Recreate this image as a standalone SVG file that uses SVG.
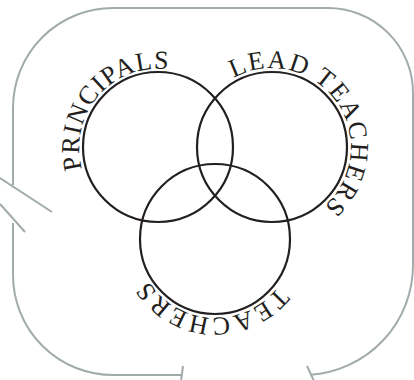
<svg xmlns="http://www.w3.org/2000/svg" width="414" height="380" viewBox="0 0 414 380">
  <style>
    .frame { fill: none; stroke: #a2abab; stroke-width: 2; }
    .ring { fill: none; stroke: #231f20; stroke-width: 2.2; }
    .lbl { font-family: "Liberation Serif", "Times New Roman", serif; font-size: 26px; fill: #231f20; }
  </style>
  <defs>
    <path id="pPrin" d="M82.14,169.04 A79,79 0 0 1 233.86,124.96 A79,79 0 0 1 82.14,169.04"/>
    <path id="pLead" d="M233.46,78.04 A79,79 0 0 1 310.54,215.96 A79,79 0 0 1 233.46,78.04"/>
    <path id="pTeach" d="M278.01,286.65 A79,79 0 0 1 151.99,191.35 A79,79 0 0 1 278.01,286.65"/>
  </defs>
  <g id="frame">
    <path class="frame" d="M310,374.8 A110,110 0 0 0 413,265 L413,93 A85,85 0 0 0 328,8 L113,8 A100,100 0 0 0 13,108 L13,185"/>
    <path class="frame" d="M13,223 L13,275 A100,100 0 0 0 113,375 L182,375"/>
    <line class="frame" x1="183" y1="366" x2="181" y2="381"/>
    <line class="frame" x1="307" y1="366" x2="314" y2="381"/>
    <line class="frame" x1="0" y1="178" x2="52" y2="212"/>
    <line class="frame" x1="0" y1="204" x2="25" y2="232"/>
  </g>
  <g id="principals">
    <circle class="ring" cx="158" cy="147" r="75"/>
    <text class="lbl" letter-spacing="1"><textPath href="#pPrin">PRINCIPALS</textPath></text>
  </g>
  <g id="lead-teachers">
    <circle class="ring" cx="272" cy="147" r="75"/>
    <text class="lbl" letter-spacing="1.7"><textPath href="#pLead">LEAD TEACHERS</textPath></text>
  </g>
  <g id="teachers">
    <circle class="ring" cx="215" cy="239" r="75"/>
    <text class="lbl" letter-spacing="2.5"><textPath href="#pTeach">TEACHERS</textPath></text>
  </g>
</svg>
